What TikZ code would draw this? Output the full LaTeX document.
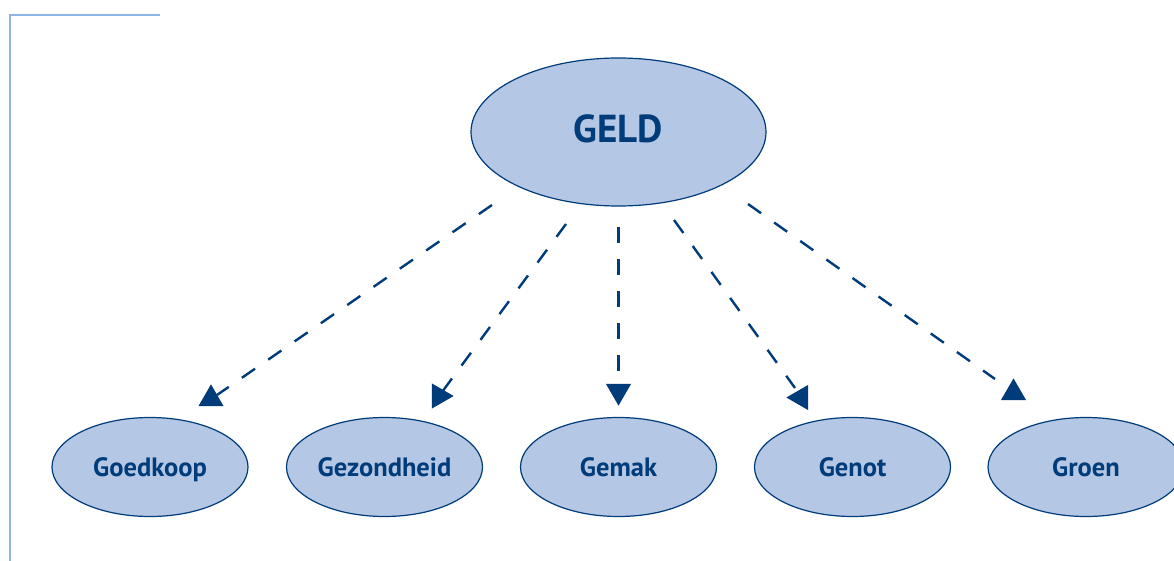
\documentclass[tikz,border=0pt]{standalone}
\usepackage{fontspec}
\setmainfont{PT Sans}
\usetikzlibrary{shapes.geometric}
\definecolor{navy}{HTML}{003B7A}
\definecolor{paleblue}{HTML}{B4C7E5}
\definecolor{framecol}{HTML}{8DB4E2}
\tikzset{
  bubble/.style={ellipse, draw=navy, line width=1.2pt, fill=paleblue,
    text=navy, inner sep=0pt, text depth=0pt,
    font=\fontsize{26.5}{28}\selectfont\bfseries, text height=18.5pt},
  small/.style={bubble, minimum width=196pt, minimum height=99pt},
  link/.style={draw=navy, line width=2.4pt, dash pattern=on 16pt off 16pt},
  tip/.style={regular polygon, regular polygon sides=3, fill=navy,
    inner sep=0pt, minimum size=28.9pt}
}
\begin{document}
\begin{tikzpicture}[x=1pt, y=-1pt]
\useasboundingbox (0,0) rectangle (1174,561);
\clip (0,0) rectangle (1174,561);

% frame corner
\draw[framecol, line width=1.7pt] (160,15) -- (10,15) -- (10,561);

% central bubble
\node[bubble, minimum width=295pt, minimum height=148pt,
  font=\fontsize{39}{42}\selectfont\bfseries,
  text height=27.5pt, text depth=6pt] (geld) at (618.5,132) {GELD};

% outer bubbles
\node[small] (goedkoop)   at (150,467)    {Goedkoop};
\node[small] (gezondheid) at (384.5,467)  {Gezondheid};
\node[small] (gemak)      at (618.5,467)  {Gemak};
\node[small] (genot)      at (852.5,467)  {Genot};
\node[small] (groen)      at (1086,467)   {Groen};

% connector ends
\coordinate (s1) at (492,205);  \coordinate (e1) at (217,395);
\coordinate (s2) at (566,224);  \coordinate (e2) at (442,392);
\coordinate (s3) at (618.5,227);\coordinate (e3) at (618.5,372);
\coordinate (s4) at (674,220);  \coordinate (e4) at (795,388);
\coordinate (s5) at (748,204);  \coordinate (e5) at (995,379);

\draw[link] (s1) -- (e1);
\draw[link] (s2) -- (e2);
\draw[link] (s3) -- (e3);
\draw[link] (s4) -- (e4);
\draw[link] (s5) -- (e5);

% arrow tips
\node[tip] (t1) at (211,398.8) {};
\node[tip, rotate=-90] (t2) at (439.2,396) {};
\node[tip, rotate=180] (t3) at (618.5,391.2) {};
\node[tip, rotate=90] (t4) at (800.8,397.5) {};
\node[tip] (t5) at (1013.5,392.8) {};
\end{tikzpicture}
\end{document}
